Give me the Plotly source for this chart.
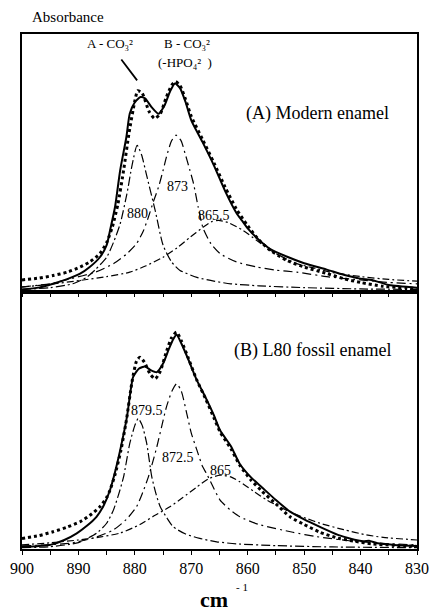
import plotly.graph_objects as go
from plotly.subplots import make_subplots

# ---------------- Panel A: modern enamel ----------------
a_meas_x = [900, 897, 894.5, 892, 889.7, 888, 886.2, 885, 884.4, 883.5, 882.6, 881.5, 880.9, 880, 879,
            878.2, 877, 875.8, 874.8, 873.8, 872.9, 872, 871, 870, 868, 866, 864, 862, 861, 860, 858, 856,
            853, 850, 846, 843, 840, 838, 835, 830]
a_meas_y = [0.008, 0.015, 0.03, 0.048, 0.069, 0.095, 0.133, 0.18, 0.237, 0.33, 0.471, 0.6, 0.691, 0.735, 0.755,
            0.75, 0.715, 0.69, 0.72, 0.775, 0.808, 0.79, 0.735, 0.665, 0.58, 0.49, 0.39, 0.305, 0.275, 0.245, 0.2, 0.165,
            0.135, 0.11, 0.085, 0.065, 0.05, 0.045, 0.025, 0.015]

a_fit_x = [900, 897, 894.5, 892, 889.7, 888, 886.2, 885, 884, 883, 882, 881, 880, 879.5, 878.7, 877.5, 876.5,
           875.5, 874.5, 873.5, 872.8, 872, 871, 870, 868, 866, 864, 862, 860, 858, 856, 853, 850, 846, 843,
           840, 836, 830]
a_fit_y = [0.045, 0.052, 0.062, 0.075, 0.095, 0.115, 0.147, 0.19, 0.25, 0.34, 0.47, 0.62, 0.74, 0.78, 0.77, 0.70,
           0.672, 0.69, 0.75, 0.80, 0.815, 0.80, 0.745, 0.68, 0.59, 0.50, 0.405, 0.32, 0.255, 0.2, 0.16, 0.12, 0.095,
           0.07, 0.05, 0.035, 0.02, 0.012]

a_c880_x = [900, 895, 891, 888.5, 887, 885, 883.8, 882.6, 881.4, 880.5, 879.6, 878.8, 877.9, 876.4, 875, 873.5,
            872, 869, 866, 863, 858, 850, 840, 830]
a_c880_y = [0.008, 0.015, 0.03, 0.056, 0.085, 0.133, 0.19, 0.263, 0.38, 0.49, 0.568, 0.53, 0.45, 0.315, 0.18, 0.115,
            0.082, 0.055, 0.04, 0.03, 0.022, 0.015, 0.01, 0.008]

a_c873_x = [900, 895, 891.5, 887, 883.8, 881.5, 879.7, 878.5, 877.6, 876.7, 875.8, 875, 874.4, 873.5, 872.7,
            871.8, 871.1, 870.3, 869.6, 868.8, 867.9, 866.5, 864.9, 862, 858.4, 855, 851.3, 845.4, 840, 835, 830]
a_c873_y = [0.018, 0.03, 0.049, 0.075, 0.108, 0.145, 0.186, 0.235, 0.289, 0.35, 0.406, 0.47, 0.523, 0.585, 0.607,
            0.585, 0.536, 0.475, 0.419, 0.33, 0.245, 0.185, 0.147, 0.115, 0.095, 0.083, 0.075, 0.056, 0.045, 0.035, 0.03]

a_c865_x = [900, 895, 889.7, 885, 880.9, 878, 875, 872.5, 870.2, 868, 866.5, 865.2, 863.5, 860.8, 858.5, 856,
            853.5, 851.3, 848, 845.4, 840, 835, 830]
a_c865_y = [0.017, 0.028, 0.043, 0.058, 0.075, 0.1, 0.133, 0.17, 0.211, 0.248, 0.27, 0.276, 0.268, 0.237, 0.2, 0.16,
            0.13, 0.108, 0.09, 0.075, 0.058, 0.047, 0.04]

# ---------------- Panel B: L80 fossil enamel ----------------
b_meas_x = [900, 897, 895, 892.5, 890.3, 888.5, 886.8, 885.5, 884.4, 883.5, 882.6, 881.4, 880.3, 879.3, 878.2,
            877.2, 876.1, 875, 874, 873.2, 872.6, 871.8, 870.5, 869, 867.5, 866, 864.9, 863, 861.4, 859.5, 857.5,
            855, 852.5, 850, 847.2, 844, 841.9, 839.5, 838.5, 837, 834, 830]
b_meas_y = [0.008, 0.012, 0.016, 0.035, 0.061, 0.09, 0.125, 0.17, 0.229, 0.3, 0.384, 0.513, 0.668, 0.70, 0.709,
            0.695, 0.687, 0.72, 0.775, 0.815, 0.832, 0.80, 0.735, 0.655, 0.59, 0.52, 0.461, 0.40, 0.33, 0.28, 0.24,
            0.19, 0.145, 0.115, 0.086, 0.055, 0.041, 0.03, 0.032, 0.022, 0.016, 0.012]

b_fit_x = [900, 897, 894.5, 892, 889.7, 888, 886.2, 885, 884.4, 883.5, 882.5, 881.5, 880.5, 879.7, 879.1, 878.3,
           877.3, 876.4, 875.5, 874.5, 873.5, 872.6, 871.8, 870.5, 869, 867.5, 866, 864.9, 863, 861.4, 859.5,
           857.5, 855, 852.5, 850, 847.2, 844, 841, 838, 834, 830]
b_fit_y = [0.041, 0.052, 0.067, 0.085, 0.106, 0.13, 0.164, 0.2, 0.229, 0.29, 0.38, 0.5, 0.65, 0.73, 0.745, 0.725,
           0.68, 0.661, 0.69, 0.76, 0.82, 0.842, 0.81, 0.74, 0.655, 0.585, 0.51, 0.455, 0.39, 0.325, 0.27,
           0.225, 0.175, 0.125, 0.095, 0.065, 0.042, 0.03, 0.02, 0.014, 0.01]

b_c879_x = [900, 895, 890, 886.8, 885, 883.8, 882.9, 882, 880.9, 880, 879.4, 878.7, 877.9, 877, 876.2, 875.5,
            874.3, 873.2, 871, 868.5, 865.5, 862, 855, 845, 830]
b_c879_y = [0.005, 0.009, 0.025, 0.061, 0.1, 0.151, 0.21, 0.28, 0.41, 0.48, 0.507, 0.48, 0.41, 0.28, 0.21, 0.164,
            0.12, 0.086, 0.058, 0.041, 0.028, 0.02, 0.013, 0.008, 0.005]

b_c872_x = [900, 895, 891.5, 887, 883.8, 881.5, 879.7, 878.6, 877.6, 876.8, 876.1, 875.2, 874.4, 873.4, 872.6,
            871.8, 870.8, 870, 869, 868, 867.3, 866, 864.9, 863, 861.4, 858, 852, 847.8, 842, 836, 830]
b_c872_y = [0.012, 0.017, 0.022, 0.045, 0.074, 0.115, 0.164, 0.22, 0.28, 0.34, 0.397, 0.48, 0.552, 0.615, 0.642,
            0.615, 0.526, 0.45, 0.384, 0.32, 0.293, 0.235, 0.19, 0.15, 0.125, 0.095, 0.065, 0.048, 0.032, 0.022, 0.016]

b_c865_x = [900, 895, 890, 886, 882.6, 879.1, 876.5, 873.8, 871.5, 869, 867, 864.9, 863, 861.4, 859, 856.6,
            854, 851.9, 849.5, 847.2, 843, 839, 836, 830]
b_c865_y = [0.016, 0.024, 0.035, 0.047, 0.062, 0.095, 0.13, 0.164, 0.2, 0.241, 0.272, 0.287, 0.28, 0.261, 0.225,
            0.19, 0.16, 0.138, 0.118, 0.1, 0.075, 0.055, 0.045, 0.035]

x_ticks = [900, 890, 880, 870, 860, 850, 840, 830]

FONT = "Liberation Serif, Times New Roman, serif"

fig = make_subplots(rows=2, cols=1, vertical_spacing=0)

def add_panel(row, meas, fit, comps):
    fig.add_trace(go.Scatter(x=meas[0], y=meas[1], mode="lines",
                             line=dict(color="black", width=2, shape="spline", smoothing=0.6),
                             hoverinfo="skip"), row=row, col=1)
    fig.add_trace(go.Scatter(x=fit[0], y=fit[1], mode="lines",
                             line=dict(color="black", width=3, dash="3px,3px", shape="spline", smoothing=0.6),
                             hoverinfo="skip"), row=row, col=1)
    styles = ["9px,3px,2px,3px", "9px,4px,2px,4px", "7px,3px,2px,3px"]
    for (cx, cy), ds in zip(comps, styles):
        fig.add_trace(go.Scatter(x=cx, y=cy, mode="lines",
                                 line=dict(color="black", width=1.2, dash=ds, shape="spline", smoothing=0.6),
                                 hoverinfo="skip"), row=row, col=1)

add_panel(1, (a_meas_x, a_meas_y), (a_fit_x, a_fit_y),
          [(a_c880_x, a_c880_y), (a_c873_x, a_c873_y), (a_c865_x, a_c865_y)])
add_panel(2, (b_meas_x, b_meas_y), (b_fit_x, b_fit_y),
          [(b_c879_x, b_c879_y), (b_c872_x, b_c872_y), (b_c865_x, b_c865_y)])

axis_common = dict(range=[900, 830], showline=True, linecolor="black", linewidth=1.5, mirror=True,
                   showgrid=False, zeroline=False, ticks="outside", ticklen=4, tickwidth=1.2,
                   tickcolor="black", tickvals=x_ticks, automargin=False,
                   minor=dict(dtick=5, ticks="outside", ticklen=4, tickwidth=1.2, tickcolor="black",
                              showgrid=False))
fig.update_xaxes(**axis_common, showticklabels=False, row=1, col=1)
fig.update_xaxes(**axis_common, showticklabels=True, tickfont=dict(family=FONT, size=16, color="black"),
                 row=2, col=1)
fig.update_yaxes(range=[0, 1], showline=True, linecolor="black", linewidth=1.5, mirror=True,
                 showgrid=False, zeroline=False, showticklabels=False, ticks="", automargin=False)

ann = []
def txt(x, y, s, size=14, xref="x", yref="y", **kw):
    d = dict(x=x, y=y, text=s, showarrow=False, xref=xref, yref=yref,
             xanchor="center", yanchor="middle",
             font=dict(family=FONT, size=size, color="black"))
    d.update(kw)
    ann.append(d)

# Panel A labels
txt(884.4, 0.965, "A - CO₃²", 13)
txt(870.8, 0.965, "B - CO₃²", 13)
txt(871.1, 0.891, "(-HPO₄²  )", 13)
txt(847.7, 0.693, "(A) Modern enamel", 18)
txt(879.5, 0.304, "880", 14)
txt(872.5, 0.409, "873", 14)
txt(865.9, 0.296, "865.5", 14)
ann.append(dict(x=879.6, y=0.82, ax=882.6, ay=0.907, axref="x", ayref="y", xref="x", yref="y",
                text="", showarrow=True, arrowhead=0, arrowwidth=1.8, arrowcolor="black"))
# Panel B labels
txt(848.6, 0.771, "(B) L80 fossil enamel", 18, xref="x2", yref="y2")
txt(877.8, 0.539, "879.5", 14, xref="x2", yref="y2")
txt(872.4, 0.357, "872.5", 14, xref="x2", yref="y2")
txt(864.9, 0.306, "865", 14, xref="x2", yref="y2")

# Axis titles
txt(0.02, 1.033, "Absorbance", 15, xref="paper", yref="paper", xanchor="left")
txt(0.487, -0.099, "<b>cm</b>", 22, xref="paper", yref="paper")
txt(0.557, -0.074, "- 1", 11, xref="paper", yref="paper")

fig.update_layout(width=429, height=611, margin=dict(l=22, r=12, t=34, b=62),
                  paper_bgcolor="white", plot_bgcolor="white", showlegend=False,
                  annotations=ann)

fig.write_html("out.html", config={"displayModeBar": False},
               post_script="document.body.style.margin='0';document.body.style.overflow='hidden';")
